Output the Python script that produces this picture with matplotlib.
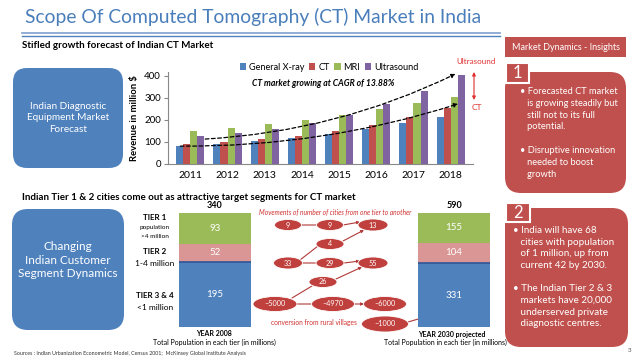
import matplotlib
matplotlib.use("Agg")
import matplotlib.pyplot as plt
from matplotlib.patches import FancyBboxPatch, Ellipse, Rectangle
import numpy as np

plt.rcParams['font.family'] = ['Lato', 'DejaVu Sans']

# ---------------- data ----------------
years = ['2011', '2012', '2013', '2014', '2015', '2016', '2017', '2018']
series_names = ['General X-ray', 'CT', 'MRI', 'Ultrasound']
xray = [80, 90, 103, 117, 137, 157, 183, 210]
ct = [90, 100, 112, 128, 150, 175, 212, 255]
mri = [148, 163, 182, 200, 222, 250, 277, 305]
ultrasound = [125, 140, 158, 185, 222, 270, 330, 405]
yticks = [0, 100, 200, 300, 400]

tier_names = ['TIER 3 & 4', 'TIER 2', 'TIER 1']
pop_2008 = [195, 52, 93]
pop_2030 = [331, 104, 155]

ellipse_labels = ['9', '9', '13', '4', '33', '29', '55', '26',
                  '~5000', '~4970', '~6000', '~1000']

# ---------------- styles ----------------
BLUE = '#4f81bd'
RED = '#c0504d'
GREEN = '#9bbb59'
PURPLE = '#8064a2'
PINK = '#d99694'
TITLE_BLUE = '#4a7ebb'
colors = [BLUE, RED, GREEN, PURPLE]

W, H = 638, 359
fig = plt.figure(figsize=(W / 100, H / 100), dpi=100)
fig.patch.set_facecolor('white')

# overlay axes in pixel coordinates (y down)
ov = fig.add_axes([0, 0, 1, 1])
ov.set_xlim(0, W)
ov.set_ylim(H, 0)
ov.axis('off')


def fx(px):
    return px / W


def fy(py):
    return 1 - py / H


# title
ov.text(25, 17, 'Scope Of Computed Tomography (CT) Market in India', fontsize=13.9,
        color=TITLE_BLUE, va='center', ha='left')
ov.plot([22, 500], [33, 33], color='#7f9fcf', lw=1.2)
ov.plot([22, 500], [35.5, 35.5], color='#4f81bd', lw=1.0)

ov.text(22, 45, 'Stifled growth forecast of Indian CT Market', fontsize=7,
        fontweight='bold', va='center', ha='left', color='black')

# Market dynamics header box
ov.add_patch(Rectangle((505, 37), 121, 20, facecolor=RED, edgecolor='none'))
ov.text(565.5, 47, 'Market Dynamics - Insights', fontsize=6.5, color='white',
        ha='center', va='center')

# Left blue boxes
ov.add_patch(FancyBboxPatch((13, 68), 110, 100, boxstyle='round,pad=0,rounding_size=14',
                            facecolor=BLUE, edgecolor='none'))
ov.text(68, 118, 'Indian Diagnostic\nEquipment Market\nForecast', fontsize=7.2,
        color='white', ha='center', va='center', linespacing=1.35)
ov.add_patch(FancyBboxPatch((12, 209), 112, 121, boxstyle='round,pad=0,rounding_size=16',
                            facecolor=BLUE, edgecolor='none'))
ov.text(68, 260, 'Changing\nIndian Customer\nSegment Dynamics', fontsize=8.5,
        color='white', ha='center', va='center', linespacing=1.3)

# Insight panel 1
ov.add_patch(FancyBboxPatch((505, 72), 121, 121, boxstyle='round,pad=0,rounding_size=16',
                            facecolor=RED, edgecolor='none'))
ov.add_patch(Rectangle((506, 63), 23, 20, facecolor=RED, edgecolor='white', lw=1.5))
ov.text(517.5, 73.5, '1', fontsize=12, color='white', ha='center', va='center')
ov.text(520, 87, '\u2022 Forecasted CT market\n   is growing steadily but\n   still not to its full\n   potential.\n\n'
        '\u2022 Disruptive innovation\n   needed to boost\n   growth',
        fontsize=6.7, color='white', ha='left', va='top', linespacing=1.4)

# Insight panel 2
ov.add_patch(FancyBboxPatch((505, 208), 123, 139, boxstyle='round,pad=0,rounding_size=16',
                            facecolor=RED, edgecolor='none'))
ov.add_patch(Rectangle((506, 203), 24, 19, facecolor=RED, edgecolor='white', lw=1.5))
ov.text(518, 212.5, '2', fontsize=12, color='white', ha='center', va='center')
ov.text(513, 226, '\u2022 India will have 68\n   cities with population\n   of 1 million, up from\n   current 42 by 2030.\n\n'
        '\u2022 The Indian Tier 2 & 3\n   markets have 20,000\n   underserved private\n   diagnostic centres.',
        fontsize=7.1, color='white', ha='left', va='top', linespacing=1.38)

# red annotation near chart
ov.text(456, 61, 'Ultrasound', fontsize=5.8, color='#e03030', ha='left', va='center')
ov.annotate('', xy=(474, 72), xytext=(474, 100),
            arrowprops=dict(arrowstyle='<|-|>', color='#e03030', lw=0.8,
                            mutation_scale=5, shrinkA=0, shrinkB=0))
ov.text(477, 107, 'CT', fontsize=6, color='#e03030', ha='center', va='center')

# ---------------- bar chart ----------------
y0_px, per_unit = 163.7, 0.22
ymax = 415
ax_left, ax_right = 168, 473
ax = fig.add_axes([fx(ax_left), fy(y0_px), (ax_right - ax_left) / W, ymax * per_unit / H])
x = np.arange(len(years))
bw = 0.19
all_series = [xray, ct, mri, ultrasound]
for i, (vals, c, name) in enumerate(zip(all_series, colors, series_names)):
    ax.bar(x + (i - 1.5) * bw, vals, width=bw, color=c, label=name, zorder=2)
ax.set_xlim(-0.6, len(years) - 0.4)
ax.set_ylim(0, ymax)
ax.set_yticks(yticks)
ax.set_xticks(x)
ax.set_xticklabels(years, fontsize=7.5)
ax.tick_params(axis='y', labelsize=7, length=3, color='#888888', pad=2)
ax.tick_params(axis='x', length=0, pad=5)
for s in ['top', 'right']:
    ax.spines[s].set_visible(False)
ax.spines['left'].set_color('#888888')
ax.spines['bottom'].set_color('#888888')
ax.set_facecolor('none')
ax.set_ylabel('Revenue in million $', fontsize=6.8, fontweight='bold', labelpad=4)

leg = ax.legend(loc='center', bbox_to_anchor=(fx(329), fy(67)), bbox_transform=fig.transFigure,
                ncol=4, fontsize=6.6, frameon=False, handlelength=0.7, handleheight=0.7,
                handletextpad=0.3, columnspacing=0.5, borderpad=0)

ax.text(fx(323), fy(84), 'CT market growing at CAGR of 13.88%', transform=fig.transFigure,
        fontsize=6.2, fontstyle='italic', fontweight='bold', ha='center', va='center')

# trend curves
ax.annotate('', xy=(7.13, 408), xytext=(0.4, 112),
            arrowprops=dict(arrowstyle='-|>', linestyle=(0, (3, 2)), color='black', lw=0.9,
                            connectionstyle='arc3,rad=0.1', mutation_scale=6,
                            shrinkA=0, shrinkB=0), zorder=3)
ax.annotate('', xy=(7.2, 272), xytext=(-0.27, 80),
            arrowprops=dict(arrowstyle='-|>', linestyle=(0, (3, 2)), color='black', lw=0.9,
                            connectionstyle='arc3,rad=0.08', mutation_scale=6,
                            shrinkA=0, shrinkB=0), zorder=3)

# ---------------- second section ----------------
ov.text(22, 197, 'Indian Tier 1 & 2 cities come out as attractive target segments for CT market',
        fontsize=7, fontweight='bold', ha='left', va='center')

seg_colors = [BLUE, PINK, GREEN]


def stacked(left, right, top, bottom, values, total_label_y):
    a = fig.add_axes([fx(left), fy(bottom), (right - left) / W, (bottom - top) / H])
    tot = sum(values)
    base = 0
    for v, c in zip(values, seg_colors):
        a.bar(0, v, bottom=base, width=1.0, color=c, edgecolor='none')
        a.text(0, base + v / 2, str(v), color='white', fontsize=7, ha='center', va='center')
        base += v
    a.axhline(values[0], color='#2f5597', lw=1.2)
    a.set_xlim(-0.5, 0.5)
    a.set_ylim(0, tot)
    a.axis('off')
    ov.text((left + right) / 2, total_label_y, str(tot), fontsize=6.5, fontweight='bold',
            ha='center', va='center')
    return a


stacked(179, 251, 213, 327, pop_2008, 206)
stacked(418, 490, 213, 327, pop_2030, 206)

# tier labels
TX = 155
ov.text(TX, 218, 'TIER 1', fontsize=5.8, fontweight='bold', ha='center', va='center')
ov.text(TX, 228, 'population', fontsize=4.6, ha='center', va='center')
ov.text(TX, 236.5, '>4 million', fontsize=4.6, ha='center', va='center')
ov.text(TX, 252, 'TIER 2', fontsize=5.8, fontweight='bold', ha='center', va='center')
ov.text(TX, 263, '1-4 million', fontsize=6, ha='center', va='center')
ov.text(TX, 296, 'TIER 3 & 4', fontsize=5.8, fontweight='bold', ha='center', va='center')
ov.text(TX, 307, '<1 million', fontsize=6, ha='center', va='center')

ov.text(214, 334, 'YEAR 2008', fontsize=5, fontweight='bold', ha='center', va='center')
ov.text(214, 342, 'Total Population in each tier (in millions)', fontsize=5, ha='center', va='center')
ov.text(452, 334, 'YEAR 2030 projected', fontsize=5, fontweight='bold', ha='center', va='center')
ov.text(445, 342, 'Total Population in each tier (in millions)', fontsize=5, ha='center', va='center')

ov.text(14, 353, 'Sources : Indian Urbanization Econometric Model, Census 2001;  McKinsey Global Institute Analysis',
        fontsize=3.8, ha='left', va='center', color='#333333')
ov.text(630, 350, '3', fontsize=4.5, ha='center', va='center', color='#555555')

# movement diagram
ov.text(335, 212, 'Movements of number of cities from one tier to another', fontsize=4.8,
        fontstyle='italic', color='#d03030', ha='center', va='center')
ov.text(314, 323, 'conversion from rural villages', fontsize=4.8, color='#d03030',
        ha='center', va='center')

ell_pos = [(288, 225, 27, 11), (330, 225, 27, 11), (373, 225, 30, 12), (330, 244, 28, 11),
           (288, 263, 29, 12), (330, 263, 28, 11), (373, 263, 30, 12), (323, 282, 28, 11),
           (275, 304, 44, 15), (333, 304, 43, 15), (385, 304, 43, 15), (385, 324, 47, 16)]
ELL_RED = '#c0403d'
for lab, (cx, cy, ew, eh) in zip(ellipse_labels, ell_pos):
    ov.add_patch(Ellipse((cx, cy), ew, eh, facecolor=ELL_RED, edgecolor='white', lw=0.6, zorder=3))
    ov.text(cx, cy, lab, color='white', fontsize=5.2, ha='center', va='center', zorder=4)

conn = [((301, 225), (317, 225), False), ((343, 225), (360, 222), True),
        ((300, 260), (318, 246), False), ((343, 241), (364, 230), True),
        ((302, 263), (316, 263), False), ((344, 263), (360, 261), True),
        ((292, 298), (312, 286), False), ((336, 279), (362, 267), True),
        ((297, 304), (311, 304), False), ((354, 304), (364, 304), True),
        ((408, 322), (432, 315), True)]
for (x1, y1), (x2, y2), arrow in conn:
    ov.annotate('', xy=(x2, y2), xytext=(x1, y1),
                arrowprops=dict(arrowstyle='-|>' if arrow else '-', color='#b03a38', lw=0.8,
                                mutation_scale=4, shrinkA=0, shrinkB=0), zorder=2)

fig.savefig('out.png', dpi=100, facecolor='white')
